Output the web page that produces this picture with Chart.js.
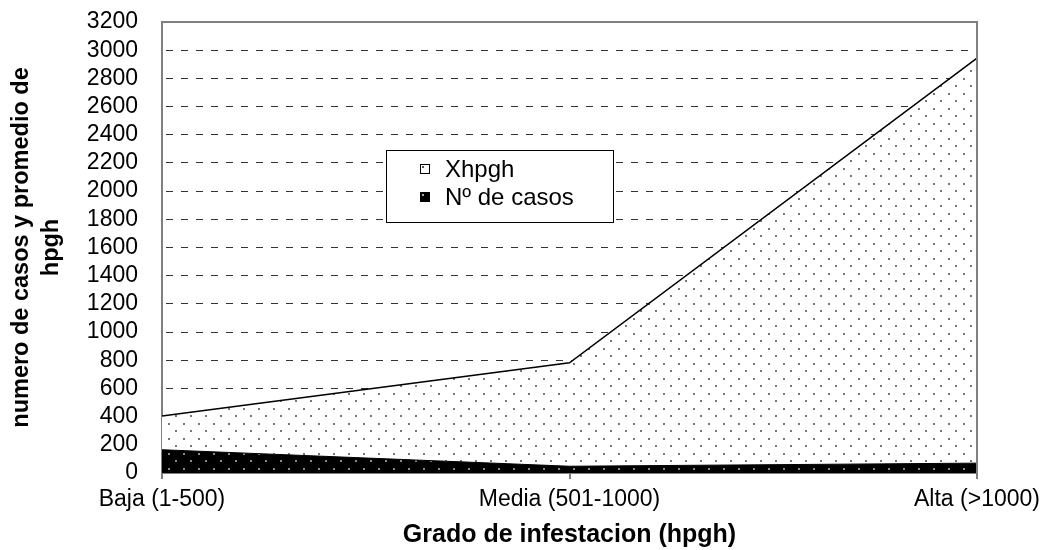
<!DOCTYPE html>
<html lang="es">
<head>
  <meta charset="UTF-8" />
  <title>Grado de infestacion (hpgh)</title>
  <script src="https://cdn.jsdelivr.net/npm/chart.js"></script>
  <style>
    html, body { margin: 0; padding: 0; background: #fff; }
    #wrap { width: 1054px; height: 550px; position: relative; }
  </style>
</head>
<body>
  <div id="wrap"><canvas id="infestChart"></canvas></div>

  <script>
  // Data
  const categories = ['Baja (1-500)', 'Media (501-1000)', 'Alta (>1000)'];
  const xhpgh = [405, 782, 2944];
  const nCasos = [165, 48, 70];
  const seriesLabels = ['Xhpgh', 'N\u00ba de casos'];

  const FONT = '"Liberation Sans", Arial, sans-serif';
  const ctx = document.getElementById('infestChart').getContext('2d');

  // Dotted fill pattern like the old Excel area fills
  function dotPattern(bg, dot) {
    const c = document.createElement('canvas');
    c.width = 15; c.height = 15;
    const g = c.getContext('2d');
    g.fillStyle = bg;
    g.fillRect(0, 0, 15, 15);
    g.fillStyle = dot;
    g.fillRect(3, 3, 2, 2);
    g.fillRect(10, 10, 2, 2);
    return ctx.createPattern(c, 'repeat');
  }
  const whiteDots = dotPattern('#ffffff', '#777777');
  const blackDots = dotPattern('#000000', '#8a8a8a');

  // Gray frame on top and right of the plot area
  const frame = {
    id: 'frame',
    afterDraw(chart) {
      const a = chart.chartArea, c = chart.ctx;
      c.save();
      c.strokeStyle = '#808080';
      c.lineWidth = 2;
      c.beginPath();
      c.moveTo(a.left, a.top);
      c.lineTo(a.right, a.top);
      c.lineTo(a.right, a.bottom + 6);
      c.stroke();
      c.restore();
    }
  };

  // Legend box sitting inside the plot
  const boxLegend = {
    id: 'boxLegend',
    afterDraw(chart) {
      const c = chart.ctx;
      c.save();
      c.fillStyle = '#fff';
      c.fillRect(386, 150, 227, 72);
      c.strokeStyle = '#000';
      c.lineWidth = 1;
      c.strokeRect(386.5, 150.5, 227, 72);
      const rows = [
        { y: 169, bg: '#fff', dot: '#555' },
        { y: 197, bg: '#000', dot: '#aaa' }
      ];
      c.font = '24px ' + FONT;
      c.textBaseline = 'middle';
      rows.forEach((r, i) => {
        c.fillStyle = r.bg;
        c.fillRect(420, r.y - 5, 10, 10);
        c.strokeStyle = '#000';
        c.strokeRect(420.5, r.y - 4.5, 9, 9);
        c.fillStyle = r.dot;
        c.fillRect(422, r.y - 3, 2, 2);
        c.fillStyle = '#000';
        c.fillText(seriesLabels[i], 445, r.y + 1);
      });
      c.restore();
    }
  };

  new Chart(ctx, {
    type: 'line',
    data: {
      labels: categories,
      datasets: [{
        label: seriesLabels[0],
        data: xhpgh,
        order: 1,
        fill: 'origin',
        backgroundColor: whiteDots,
        borderColor: '#000',
        borderWidth: 1.5,
        pointRadius: 0,
        tension: 0
      }, {
        label: seriesLabels[1],
        data: nCasos,
        order: 0,
        fill: 'origin',
        backgroundColor: blackDots,
        borderColor: '#000',
        borderWidth: 1,
        pointRadius: 0,
        tension: 0
      }]
    },
    options: {
      responsive: true,
      maintainAspectRatio: false,
      animation: false,
      layout: { padding: { left: 0, top: 22, right: 77, bottom: 0 } },
      plugins: {
        legend: { display: false },
        tooltip: { enabled: false }
      },
      scales: {
        x: {
          offset: false,
          grid: {
            offset: false,
            drawOnChartArea: false,
            drawTicks: true,
            tickLength: 6,
            color: '#808080',
            lineWidth: 2
          },
          border: { color: '#808080', width: 2 },
          ticks: {
            color: '#000',
            padding: 7,
            maxRotation: 0,
            autoSkip: false,
            font: { family: FONT, size: 23 }
          },
          title: {
            display: true,
            text: 'Grado de infestacion (hpgh)',
            color: '#000',
            padding: { top: 0, bottom: 0 },
            font: { family: FONT, size: 25, weight: 'bold' }
          },
          afterFit(scale) {
            scale.height = 77;
            scale.paddingLeft = 0;
            scale.paddingRight = 0;
          }
        },
        y: {
          min: 0,
          max: 3200,
          grid: {
            drawTicks: false,
            color: c => (c.tick && (c.tick.value === 0 || c.tick.value === 3200)) ? 'rgba(0,0,0,0)' : '#333',
            lineWidth: 1
          },
          border: { color: '#808080', width: 2, dash: [7, 8], dashOffset: -3 },
          ticks: {
            stepSize: 200,
            autoSkip: false,
            color: '#000',
            padding: 24,
            font: { family: FONT, size: 23 },
            callback: v => String(v)
          },
          title: {
            display: true,
            text: ['numero de casos y promedio de', 'hpgh'],
            color: '#000',
            padding: { top: 6, bottom: 0 },
            font: { family: FONT, size: 23.5, weight: 'bold', lineHeight: 1.3 }
          },
          afterFit(scale) {
            scale.width = 162;
            scale.paddingTop = 0;
            scale.paddingBottom = 0;
          }
        }
      }
    },
    plugins: [frame, boxLegend]
  });
  </script>
</body>
</html>
